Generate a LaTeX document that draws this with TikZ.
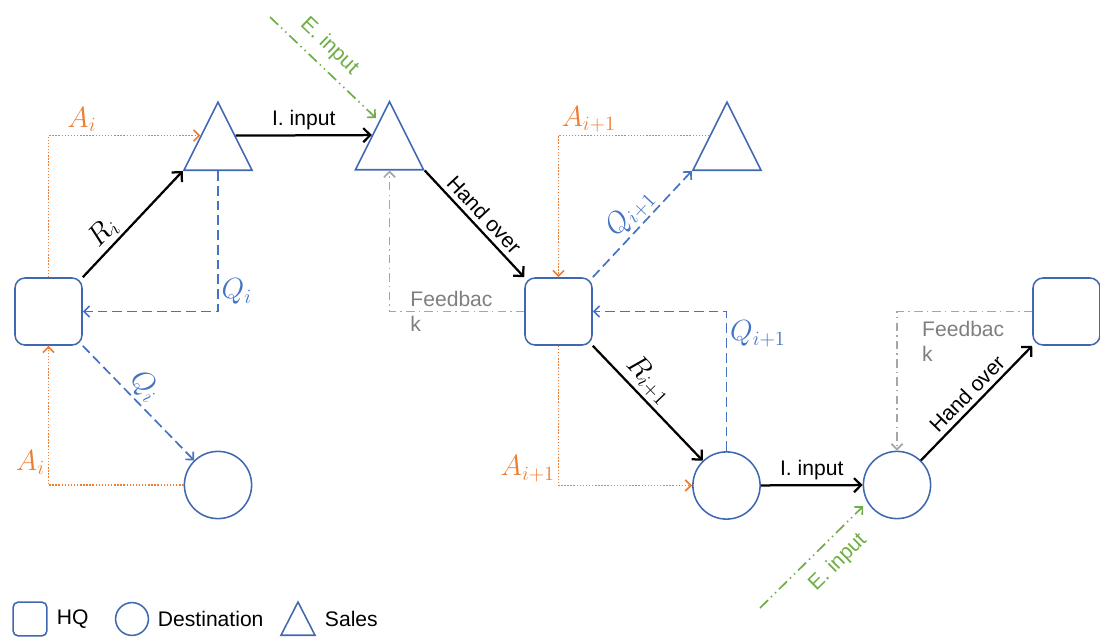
\documentclass[tikz,border=0pt]{standalone}
\usepackage{amsmath, amssymb}
\usepackage{fontspec}
\setmainfont{Liberation Sans}
\usetikzlibrary{shapes.geometric, arrows.meta, calc}

\definecolor{nodeblue}{HTML}{4068B0}
\definecolor{qblue}{HTML}{4472C4}
\definecolor{aorange}{HTML}{ED7D31}
\definecolor{egreen}{HTML}{70AD47}
\definecolor{fbgray}{HTML}{A6A6A6}
\definecolor{fbtext}{HTML}{7F7F7F}

\begin{document}
\begin{tikzpicture}[x=0.025cm, y=-0.025cm, font=\fontsize{15}{18}\selectfont]

    % Styles
    \tikzstyle{hq node} = [rectangle, rounded corners=0.25cm, draw=nodeblue, line width=1.1pt, minimum size=1.675cm, inner sep=0];
    \tikzstyle{dest node} = [circle, draw=nodeblue, line width=1.1pt, minimum size=1.68cm, inner sep=0];
    \tikzstyle{sales node} = [isosceles triangle, isosceles triangle stretches, shape border rotate=90, draw=nodeblue, line width=1.1pt, minimum width=1.7cm, minimum height=1.7cm, inner sep=0, anchor=lower side];
    \tikzstyle{flow} = [-{Straight Barb[length=5pt, width=10pt, line width=1.6pt]}, line width=1.6pt];
    \tikzstyle{order} = [-{Straight Barb[length=4pt, width=8pt, line width=1.2pt]}, qblue, line width=1.2pt, dash pattern=on 7pt off 3.5pt];
    \tikzstyle{alloc} = [-{Straight Barb[length=4pt, width=8pt, line width=1.2pt]}, aorange, line width=1.2pt, dash pattern=on 1pt off 1.2pt];
    \tikzstyle{extin} = [-{Straight Barb[length=4pt, width=8pt, line width=1.2pt]}, egreen, line width=1.2pt, dash pattern=on 8pt off 3pt on 1pt off 3pt on 1pt off 3pt];
    \tikzstyle{feedback} = [-{Straight Barb[length=4pt, width=8pt, line width=1.2pt]}, fbgray, line width=1.2pt, dash pattern=on 6pt off 3pt on 1pt off 3pt];
    \tikzstyle{math label} = [font=\fontsize{21}{24}\selectfont, inner sep=2pt];

    \useasboundingbox (0,0) rectangle (1100,637);

    % Nodes
    \node[hq node] (HQ1) at (48.5,311.5) {};
    \node[sales node] (S1) at (218,171) {};
    \node[sales node] (S2) at (389.5,170.5) {};
    \node[dest node] (D1) at (218,485) {};
    \node[hq node] (HQ2) at (558.5,311.5) {};
    \node[sales node] (S3) at (727,171) {};
    \node[dest node] (D2) at (726.5,485.5) {};
    \node[dest node] (D3) at (897,485) {};
    \node[hq node] (HQ3) at (1066.5,311.5) {};

    % Stage i
    \draw[flow] (HQ1.north east) 
        to node[pos=0.32, sloped, above, math label] {$R_i$} (S1.left corner);
    \draw[alloc] (HQ1.north) 
        |- node[pos=0.61, above, math label] {$A_i$} (S1.left side);
    \draw[order] (S1.lower side) 
        |- node[pos=0.43, right, math label] {$Q_i$} (HQ1.east);
    \draw[order] (HQ1.south east) 
        to node[pos=0.45, sloped, above, math label] {$Q_i$} (D1);
    \draw[alloc] (D1.west) 
        -| node[pos=0.58, left, math label] {$A_i$} (HQ1.south);
    \draw[flow] (S1.right side) 
        to node[midway, above] {I. input} (S2.left side);

    \coordinate (E1) at (270,17);
    \draw[extin, shorten >=3pt] (E1) 
        to node[pos=0.42, sloped, above=3pt] {E. input} ($(S2.apex)!0.3!(S2.left corner)$);

    \draw[flow] (S2.right corner) 
        to node[midway, sloped, above] {Hand over} (HQ2.north west);
    \draw[feedback] (HQ2.west) 
        -| node[pos=0.27, text=fbtext, align=left] {Feedbac\\k} (S2.lower side);

    % Stage i+1
    \draw[alloc] (S3.left side) 
        -| node[pos=0.4, above, math label] {$A_{i+1}$} (HQ2.north);
    \draw[order] (HQ2.north east) 
        to node[midway, sloped, above, math label] {$Q_{i+1}$} (S3.left corner);
    \draw[order] (D2.north) 
        |- node[pos=0.42, right, math label] {$Q_{i+1}$} (HQ2.east);
    \draw[flow] (HQ2.south east) 
        to node[pos=0.4, sloped, above, math label] {$R_{i+1}$} (D2);
    \draw[alloc] (HQ2.south) 
        |- node[pos=0.44, left, math label] {$A_{i+1}$} (D2.west);
    \draw[flow] (D2) 
        to node[midway, above] {I. input} (D3);

    \coordinate (E2) at (760,608);
    \draw[extin, shorten >=4pt] (E2) 
        to node[pos=0.58, sloped, below=5pt] {E. input} (D3.210);

    \draw[feedback] (HQ3.west) 
        -| node[pos=0.41, text=fbtext, align=left, anchor=north west, inner sep=0, yshift=-6pt] {Feedbac\\k} (D3.north);
    \draw[flow] (D3) 
        to node[midway, sloped, above] {Hand over} (HQ3.south west);

    % Legend
    \node[hq node, minimum size=0.84cm, rounded corners=0.12cm] (LH) at (30,619) {};
    \node[anchor=west] (LHt) at (52,619) {HQ};
    \node[dest node, minimum size=0.82cm] (LD) at (132,619) {};
    \node[anchor=west] (LDt) at (153,619) {Destination};
    \node[sales node, minimum width=0.85cm, minimum height=0.83cm] (LS) at (298,636) {};
    \node[anchor=west] (LSt) at (320,619) {Sales};

\end{tikzpicture}
\end{document}
